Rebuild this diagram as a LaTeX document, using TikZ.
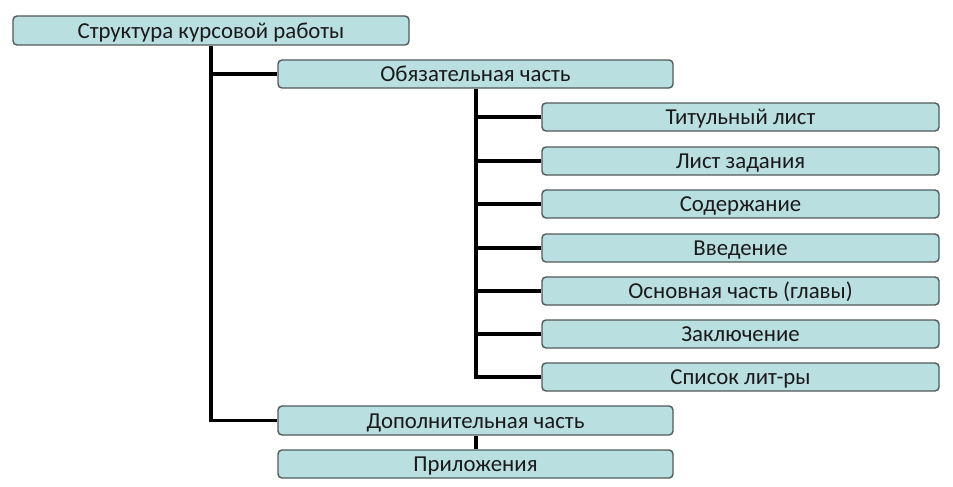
\documentclass[tikz,border=0pt]{standalone}
\usepackage{fontspec}
\setmainfont{Carlito}
\definecolor{boxfill}{HTML}{B9DFE0}
\definecolor{boxline}{HTML}{505A5A}
\definecolor{txt}{HTML}{1A1A1A}
\begin{document}
\begin{tikzpicture}[x=1pt,y=-1pt,
  box/.style={draw=boxline,line width=1.4pt,fill=boxfill,rounded corners=4pt,
    text=txt,font=\fontsize{22.8}{24}\selectfont,inner sep=0pt,
    text height=16pt,text depth=0.8pt},
  conn/.style={line width=3.5pt,black}]
\useasboundingbox (0,0) rectangle (953,487);
\newcommand{\bx}[6]{\node[box,minimum width=#4-#2,minimum height=#5-#3] (#1) at ({(#2+#4)/2},{(#3+#5)/2}) {#6};}
\bx{root}{13}{16}{409}{45}{Структура курсовой работы}
\bx{oblig}{278}{60}{673}{88}{Обязательная часть}
\bx{t1}{542}{103}{939}{131}{Титульный лист}
\bx{t2}{542}{147}{939}{175}{Лист задания}
\bx{t3}{542}{190}{939}{218}{Содержание}
\bx{t4}{542}{234}{939}{262}{Введение}
\bx{t5}{542}{277}{939}{305}{Основная часть (главы)}
\bx{t6}{542}{320}{939}{348}{Заключение}
\bx{t7}{542}{363}{939}{391}{Список лит-ры}
\bx{dop}{278}{406}{673}{435}{Дополнительная часть}
\bx{pril}{278}{450}{673}{478}{Приложения}
\draw[conn] (root.south) -- (root.south |- dop.west) -- (dop.west);
\draw[conn] (root.south |- oblig.west) -- (oblig.west);
\coordinate (v2) at (476,88);
\draw[conn] (oblig.south -| v2) -- (v2 |- t7.west) -- (t7.west);
\foreach \n in {t1,t2,t3,t4,t5,t6} \draw[conn] (v2 |- \n.west) -- (\n.west);
\draw[conn] (dop.south -| v2) -- (pril.north -| v2);
\end{tikzpicture}
\end{document}
